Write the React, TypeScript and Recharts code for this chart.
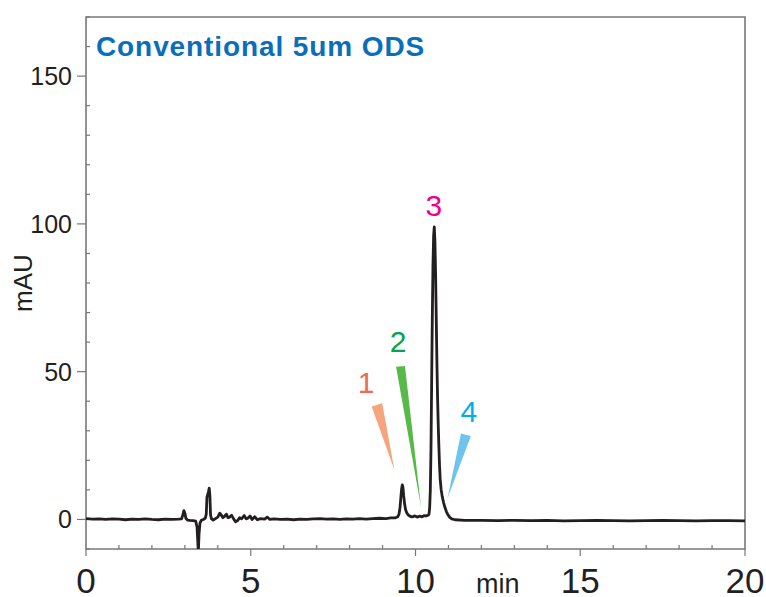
import React from 'react'
import { LineChart, Line, XAxis, YAxis, ReferenceArea, ReferenceDot } from 'recharts'

// chromatogram trace: retention time (min) / signal (mAU)
const timeMin = [
    0, 0.2, 0.4, 0.6, 0.8, 1.0, 1.2, 1.4, 1.6, 1.8, 2.0, 2.2, 2.4, 2.6, 2.8, 2.9,
    2.94, 2.97, 3.0, 3.03, 3.08, 3.15, 3.25, 3.33, 3.37, 3.39, 3.41, 3.43, 3.46, 3.5,
    3.56, 3.62, 3.65, 3.67, 3.72, 3.74, 3.76, 3.78, 3.81, 3.86, 3.93, 4.0, 4.06, 4.1,
    4.15, 4.2, 4.26, 4.31, 4.36, 4.42, 4.48, 4.54, 4.6, 4.66, 4.72, 4.8, 4.86, 4.92,
    4.98, 5.04, 5.12, 5.2, 5.3, 5.42, 5.5, 5.58, 5.7, 5.9, 6.1, 6.3, 6.5, 6.7, 6.9,
    7.1, 7.3, 7.5, 7.7, 7.9, 8.1, 8.3, 8.5, 8.7, 8.9, 9.1, 9.25, 9.38, 9.46, 9.5,
    9.53, 9.56, 9.58, 9.6, 9.62, 9.64, 9.67, 9.7, 9.74, 9.79, 9.85, 9.92, 9.98, 10.05,
    10.12, 10.2, 10.27, 10.33, 10.38, 10.41, 10.43, 10.45, 10.47, 10.49, 10.51, 10.53,
    10.55, 10.57, 10.59, 10.61, 10.63, 10.65, 10.67, 10.69, 10.71, 10.73, 10.75, 10.78,
    10.81, 10.85, 10.89, 10.94, 10.99, 11.04, 11.1, 11.2, 11.5, 12, 12.5, 13, 13.5,
    14, 14.5, 15, 15.5, 16, 16.5, 17, 17.5, 18, 18.5, 19, 19.5, 20,
]
const absorbance = [
    0.3, 0.1, 0.2, 0.0, 0.2, 0.1, -0.1, 0.1, 0.0, 0.2, 0.0, -0.1, 0.1, 0.0, 0.1, 0.2,
    1.5, 3.0, 2.2, 0.4, -0.2, -0.3, -0.4, -0.6, -2.5, -7, -11, -5, -1.2, -0.3,
    0.0, 0.4, 1.8, 7.5, 9.5, 10.6, 8, 1.5, 0.2, -0.2, 0.3, 0.8, 2.1, 1.6,
    0.6, 1.0, 1.8, 0.6, 0.8, 1.4, 0.2, -0.8, -0.4, 0.6, 0.2, 1.3, 0.2, 0.5,
    1.2, 0.0, 0.9, -0.1, 0.3, 0.1, 0.8, 0.0, 0.2, 0.0, 0.1, -0.1, 0.1, 0.0, 0.2,
    0.3, 0.1, 0.2, 0.0, 0.2, 0.1, 0.3, 0.1, 0.3, 0.4, 0.3, 0.5, 0.5, 0.9, 1.8,
    4, 8, 10.5, 11.7, 10.8, 8.2, 5.2, 3.3, 2.1, 1.4, 1.0, 0.9, 1.2, 0.8,
    1.1, 0.9, 1.3, 1.2, 1.4, 1.8, 4, 10, 24, 46, 68, 86,
    96, 99, 94, 83, 68, 53, 41, 32, 24.5, 18, 13.5, 10,
    7.8, 5.8, 4.2, 2.6, 1.5, 0.7, 0.2, -0.1, -0.3, -0.3, -0.4, -0.3, -0.4,
    -0.3, -0.5, -0.4, -0.3, -0.4, -0.5, -0.4, -0.3, -0.4, -0.5, -0.4, -0.4, -0.5,
]

const xTicks = [0, 1, 2, 3, 4, 5, 6, 7, 8, 9, 10, 11, 12, 13, 14, 15, 16, 17, 18, 19, 20]
const yTicks = [-10, 0, 10, 20, 30, 40, 50, 60, 70, 80, 90, 100, 110, 120, 130, 140, 150, 160, 170]

// peak numbers and where they sit (min, mAU)
const peakNames = ['1', '2', '3', '4']
const peakLabelTime = [8.5, 9.47, 10.56, 11.62]
const peakLabelMAU = [42.8, 56.7, 102.7, 33.1]

// pointer wedges: two corners of the wide end, then the tip
const wedgePeaks = ['1', '2', '4']
const wedgeTime = [[8.67, 8.99, 9.36], [9.41, 9.68, 10.17], [11.38, 11.68, 10.97]]
const wedgeMAU = [[38.2, 39.3, 16.7], [51.7, 51.9, 4.0], [29.1, 28.2, 7.1]]

const trace = timeMin.map((t, i) => ({ t, mAU: absorbance[i] }))

const FONT = '"Liberation Sans", Arial, Helvetica, sans-serif'
const INK = '#231f20'
const FRAME = '#77787b'
const labelColors: Record<string, string> = { '1': '#f26b4f', '2': '#00a651', '3': '#ec008c', '4': '#00aeef' }
const wedgeColors: Record<string, string> = { '1': '#f5a47e', '2': '#57b947', '4': '#6fc4ec' }

const XTick = (props: any) => {
    const { x, y, payload } = props
    const major = payload.value % 5 === 0
    return (
        <g>
            <line x1={x} x2={x} y1={y} y2={major ? y + 7 : y - 4} stroke={FRAME} strokeWidth={1.2} />
            {major && (
                <text x={x} y={y + 44} textAnchor="middle" fontSize={35} fontFamily={FONT} fill={INK}>
                    {payload.value}
                </text>
            )}
        </g>
    )
}

const YTick = (props: any) => {
    const { x, y, payload } = props
    const major = payload.value >= 0 && payload.value % 50 === 0
    return (
        <g>
            <line x1={major ? x - 9 : x} x2={major ? x : x + 4} y1={y} y2={y} stroke={FRAME} strokeWidth={1.2} />
            {major && (
                <text x={x - 14} y={y + 9} textAnchor="end" fontSize={25} fontFamily={FONT} fill={INK}>
                    {payload.value}
                </text>
            )}
        </g>
    )
}

const wedgeShape = (ts: number[], vs: number[], fill: string) => (props: any) => {
    const { x, y, width, height } = props
    const t0 = Math.min(...ts)
    const t1 = Math.max(...ts)
    const v0 = Math.min(...vs)
    const v1 = Math.max(...vs)
    const pts = ts
        .map((t, i) => `${x + ((t - t0) / (t1 - t0)) * width},${y + ((v1 - vs[i]) / (v1 - v0)) * height}`)
        .join(' ')
    return <polygon points={pts} fill={fill} />
}

const peakText = (name: string) => (props: any) => (
    <text x={props.cx} y={props.cy} textAnchor="middle" fontSize={30} fontFamily={FONT} fill={labelColors[name]}>
        {name}
    </text>
)

const MinLabel = (props: any) => {
    const vb = props.viewBox
    return (
        <text x={vb.x + vb.width * 0.625} y={vb.y + 44} textAnchor="middle" fontSize={27} fontFamily={FONT} fill={INK}>
            min
        </text>
    )
}

const MAULabel = (props: any) => {
    const vb = props.viewBox
    const cx = vb.x + 32
    const cy = vb.y + vb.height / 2
    return (
        <text x={cx} y={cy} transform={`rotate(-90 ${cx} ${cy})`} textAnchor="middle" fontSize={26} fontFamily={FONT} fill={INK}>
            mAU
        </text>
    )
}

const App: React.FC = () => {
    return (
        <div style={{ position: 'absolute', left: 0, top: 0, width: 766, height: 597, background: '#fff' }}>
            <LineChart width={766} height={597} data={trace} margin={{ top: 17, right: 21, bottom: 0, left: 0 }}>
                <XAxis
                    dataKey="t"
                    type="number"
                    domain={[0, 20]}
                    ticks={xTicks}
                    interval={0}
                    tickSize={0}
                    tickMargin={0}
                    tickLine={false}
                    axisLine={false}
                    tick={<XTick />}
                    height={48}
                    label={{ content: <MinLabel /> }}
                />
                <YAxis
                    type="number"
                    domain={[-10, 170]}
                    allowDataOverflow
                    ticks={yTicks}
                    interval={0}
                    tickSize={0}
                    tickMargin={0}
                    tickLine={false}
                    axisLine={false}
                    tick={<YTick />}
                    width={86}
                    label={{ content: <MAULabel /> }}
                />
                <ReferenceArea x1={0} x2={20} y1={-10} y2={170} fill="none" stroke={FRAME} strokeWidth={1.6} ifOverflow="visible" />
                {wedgePeaks.map((p, i) => (
                    <ReferenceArea
                        key={p}
                        x1={Math.min(...wedgeTime[i])}
                        x2={Math.max(...wedgeTime[i])}
                        y1={Math.min(...wedgeMAU[i])}
                        y2={Math.max(...wedgeMAU[i])}
                        ifOverflow="visible"
                        shape={wedgeShape(wedgeTime[i], wedgeMAU[i], wedgeColors[p])}
                    />
                ))}
                {peakNames.map((p, i) => (
                    <ReferenceDot key={p} x={peakLabelTime[i]} y={peakLabelMAU[i]} r={0} ifOverflow="visible" shape={peakText(p)} />
                ))}
                <Line
                    type="linear"
                    dataKey="mAU"
                    stroke={INK}
                    strokeWidth={2.8}
                    strokeLinejoin="round"
                    dot={false}
                    isAnimationActive={false}
                />
            </LineChart>
            <svg width={766} height={70} style={{ position: 'absolute', left: 0, top: 0, pointerEvents: 'none' }}>
                <text x={96} y={56} fontSize={28} fontWeight="bold" letterSpacing={0.9} fontFamily={FONT} fill="#0a6eb8">
                    Conventional 5um ODS
                </text>
            </svg>
        </div>
    )
}

export default App
